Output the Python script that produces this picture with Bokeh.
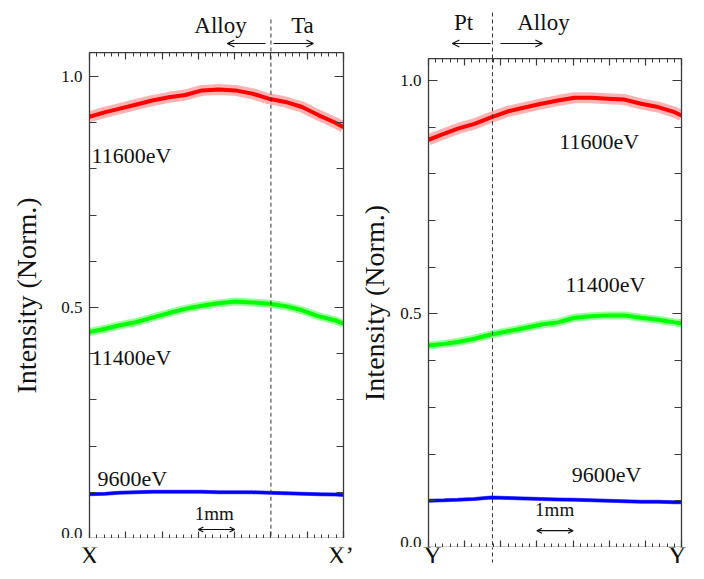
import math
from bokeh.plotting import figure
from bokeh.layouts import row, column
from bokeh.models import (LinearAxis, FixedTicker, Range1d, Arrow, OpenHead,
                          ColumnDataSource)
from bokeh.core.properties import value
from bokeh.embed import file_html
from bokeh.resources import INLINE

# ---------------- data ----------------
# position along the scan (mm)
left_x = [0.0, 0.44, 0.81, 1.27, 1.73, 2.19, 2.64, 3.10, 3.56, 4.02, 4.48, 4.94, 5.40, 5.86, 6.32, 6.78, 7.0]
left_red = [0.913, 0.923, 0.930, 0.939, 0.948, 0.955, 0.960, 0.970, 0.972, 0.970, 0.963, 0.952, 0.945, 0.934, 0.916, 0.900, 0.890]
left_green = [0.447, 0.454, 0.461, 0.468, 0.478, 0.488, 0.497, 0.504, 0.509, 0.513, 0.511, 0.508, 0.503, 0.494, 0.481, 0.472, 0.465]
left_blue = [0.096, 0.097, 0.099, 0.100, 0.101, 0.101, 0.101, 0.101, 0.100, 0.100, 0.100, 0.099, 0.098, 0.097, 0.096, 0.095, 0.094]

right_x = [0.0, 0.44, 0.81, 1.27, 1.73, 2.20, 2.66, 3.12, 3.58, 4.04, 4.50, 4.96, 5.42, 5.88, 6.35, 6.81, 7.0]
right_red = [0.873, 0.886, 0.897, 0.907, 0.921, 0.934, 0.942, 0.950, 0.957, 0.963, 0.963, 0.961, 0.959, 0.950, 0.943, 0.932, 0.925]
right_green = [0.4325, 0.436, 0.440, 0.447, 0.456, 0.463, 0.470, 0.4775, 0.482, 0.492, 0.495, 0.497, 0.497, 0.492, 0.4875, 0.482, 0.480]
right_blue = [0.100, 0.101, 0.102, 0.104, 0.107, 0.106, 0.105, 0.104, 0.103, 0.102, 0.101, 0.100, 0.099, 0.098, 0.098, 0.097, 0.097]

energies = ["11600eV", "11400eV", "9600eV"]
y_tick_labels = {0.0: "0.0", 0.5: "0.5", 1.0: "1.0"}
y_label = "Intensity (Norm.)"
left_regions = ["Alloy", "Ta"]
right_regions = ["Pt", "Alloy"]
left_ends = ["X", "X\u2019"]
right_ends = ["Y", "Y\u2019"]
scale_label = "1mm"
left_boundary = 5.0
right_boundary = 1.77

FONT = "Liberation Serif"
AXC = "#3a3a3a"
TXT = "#111111"


def style_axes(p, label_standoff):
    p.xgrid.visible = False
    p.ygrid.visible = False
    p.outline_line_color = None
    ax_top = LinearAxis()
    ax_right = LinearAxis()
    p.add_layout(ax_top, "above")
    p.add_layout(ax_right, "right")
    ax_bot = p.below[0]
    ax_left = p.left[0]
    for ax in [ax_bot, ax_top]:
        ax.ticker = FixedTicker(ticks=[0, 1, 2, 3, 4, 5, 6, 7],
                                minor_ticks=[i * 0.2 for i in range(36)])
        ax.major_tick_in = 7
        ax.minor_tick_in = 4
    for ax in [ax_left, ax_right]:
        ax.ticker = FixedTicker(ticks=[0.0, 0.5, 1.0],
                                minor_ticks=[i * 0.1 for i in range(11)])
        ax.major_tick_in = 9
        ax.minor_tick_in = 7
    for ax in [ax_bot, ax_top, ax_left, ax_right]:
        ax.axis_line_color = AXC
        ax.axis_line_width = 1.3
        ax.major_tick_line_color = AXC
        ax.minor_tick_line_color = AXC
        ax.major_tick_out = 0
        ax.minor_tick_out = 0
        ax.major_tick_line_width = 1.2
        ax.minor_tick_line_width = 1.0
    for ax in [ax_bot, ax_top, ax_right]:
        ax.major_label_text_font_size = "0px"
        ax.major_label_text_color = None
        ax.major_label_standoff = 0
    ax_left.major_label_overrides = y_tick_labels
    ax_left.major_label_text_font = FONT
    ax_left.major_label_text_font_size = "17px"
    ax_left.major_label_text_color = TXT
    ax_left.major_label_standoff = 7
    ax_left.axis_label = y_label
    ax_left.axis_label_text_font = FONT
    ax_left.axis_label_text_font_size = "28px"
    ax_left.axis_label_text_font_style = "normal"
    ax_left.axis_label_text_color = TXT
    ax_left.axis_label_standoff = label_standoff


def band(p, xs, ys, color, wide, core, alpha):
    src = ColumnDataSource(dict(x=xs, y=ys))
    p.line("x", "y", source=src, line_color=color, line_width=wide, line_alpha=alpha)
    p.line("x", "y", source=src, line_color=color, line_width=core)


def txt(p, x, y, s, size, align="left"):
    p.text(x=[x], y=[y], text=[s], text_font=value(FONT), text_font_size=size,
           text_color=TXT, text_align=align, text_baseline="alphabetic")


def arrow(p, x0, x1, y, both=False, size=7):
    head = dict(size=size, line_color=TXT, line_width=1.2)
    p.add_layout(Arrow(x_start=x0, y_start=y, x_end=x1, y_end=y,
                       line_color=TXT, line_width=1.2, end=OpenHead(**head),
                       start=OpenHead(**head) if both else None))


def dashed(p, x, y0, y1):
    p.segment(x0=[x], y0=[y0], x1=[x], y1=[y1], line_color="#333333",
              line_width=1.0, line_dash="4 3")


def bare(W, H, xr, BL, BR):
    s = figure(width=W, height=H, output_backend="svg", toolbar_location=None,
               x_range=xr, y_range=Range1d(0, H), x_axis_type=None, y_axis_type=None,
               min_border_left=BL, min_border_right=BR,
               min_border_top=0, min_border_bottom=0)
    s.outline_line_color = None
    s.xgrid.visible = False
    s.ygrid.visible = False
    return s


def panel(xs, red, green, blue, ymax, W, BL, BR, H_head, H_main, H_foot,
          boundary, regions, ends, lab, arr, lab_y, arr_y, dash_top, dash_bot,
          e_pos, scale_pos, label_standoff):
    xr = Range1d(0, 7)
    main = figure(width=W, height=H_main, output_backend="svg", toolbar_location=None,
                  x_range=xr, y_range=Range1d(0, ymax),
                  min_border_left=BL, min_border_right=BR,
                  min_border_top=0, min_border_bottom=0)
    style_axes(main, label_standoff)
    band(main, xs, red, "#ff0000", 11, 4, 0.3)
    band(main, xs, green, "#00ff00", 8, 4, 0.4)
    band(main, xs, blue, "#0000ff", 4, 3, 0.6)
    dashed(main, boundary, -0.1, 1.2)
    for (ex, ey), s in zip(e_pos, energies):
        txt(main, ex, ey, s, "22px")
    sx, sy, ay = scale_pos
    txt(main, sx, sy, scale_label, "19px", "center")
    arrow(main, 3.0, 4.0, ay, both=True, size=5)

    head = bare(W, H_head, xr, BL, BR)
    txt(head, lab[0], lab_y, regions[0], "23px", "center")
    txt(head, lab[1], lab_y, regions[1], "23px", "center")
    arrow(head, arr[0], arr[1], arr_y)
    arrow(head, arr[2], arr[3], arr_y)
    dashed(head, boundary, dash_top, -2)

    scale = (W - BL - BR) / 7.0
    foot = bare(W, H_foot, Range1d(-BL / scale, 7 + BR / scale), 0, 0)
    if dash_bot is not None:
        dashed(foot, boundary, H_foot + 2, dash_bot)
    txt(foot, ends[0][0], 8, ends[0][1], "25px", "center")
    txt(foot, ends[1][0], 8, ends[1][1], "25px", "center")
    return column(head, main), foot


left_col, left_foot = panel(
    left_x, left_red, left_green, left_blue, 1.052,
    W=352, BL=89, BR=9, H_head=52, H_main=486, H_foot=16,
    boundary=left_boundary, regions=left_regions,
    ends=[(0.0, left_ends[0]), (6.92, left_ends[1])],
    lab=(3.61, 5.87), arr=(4.85, 3.80, 5.07, 6.17), lab_y=27, arr_y=9,
    dash_top=33, dash_bot=None,
    e_pos=[(0.055, 0.829), (0.055, 0.392), (0.22, 0.130)],
    scale_pos=(3.44, 0.054, 0.0195), label_standoff=16)

right_col, right_foot = panel(
    right_x, right_red, right_green, right_blue, 1.047,
    W=336, BL=76, BR=7, H_head=58, H_main=489, H_foot=16,
    boundary=right_boundary, regions=right_regions,
    ends=[(0.11, right_ends[0]), (7.0, right_ends[1])],
    lab=(0.97, 3.18), arr=(1.72, 0.66, 1.99, 3.15), lab_y=36, arr_y=15,
    dash_top=46, dash_bot=1,
    e_pos=[(3.62, 0.869), (3.79, 0.563), (3.96, 0.156)],
    scale_pos=(3.49, 0.081, 0.036), label_standoff=7)

layout = column(row(left_col, right_col), row(left_foot, right_foot))
open("out.html", "w").write(file_html(layout, INLINE))
